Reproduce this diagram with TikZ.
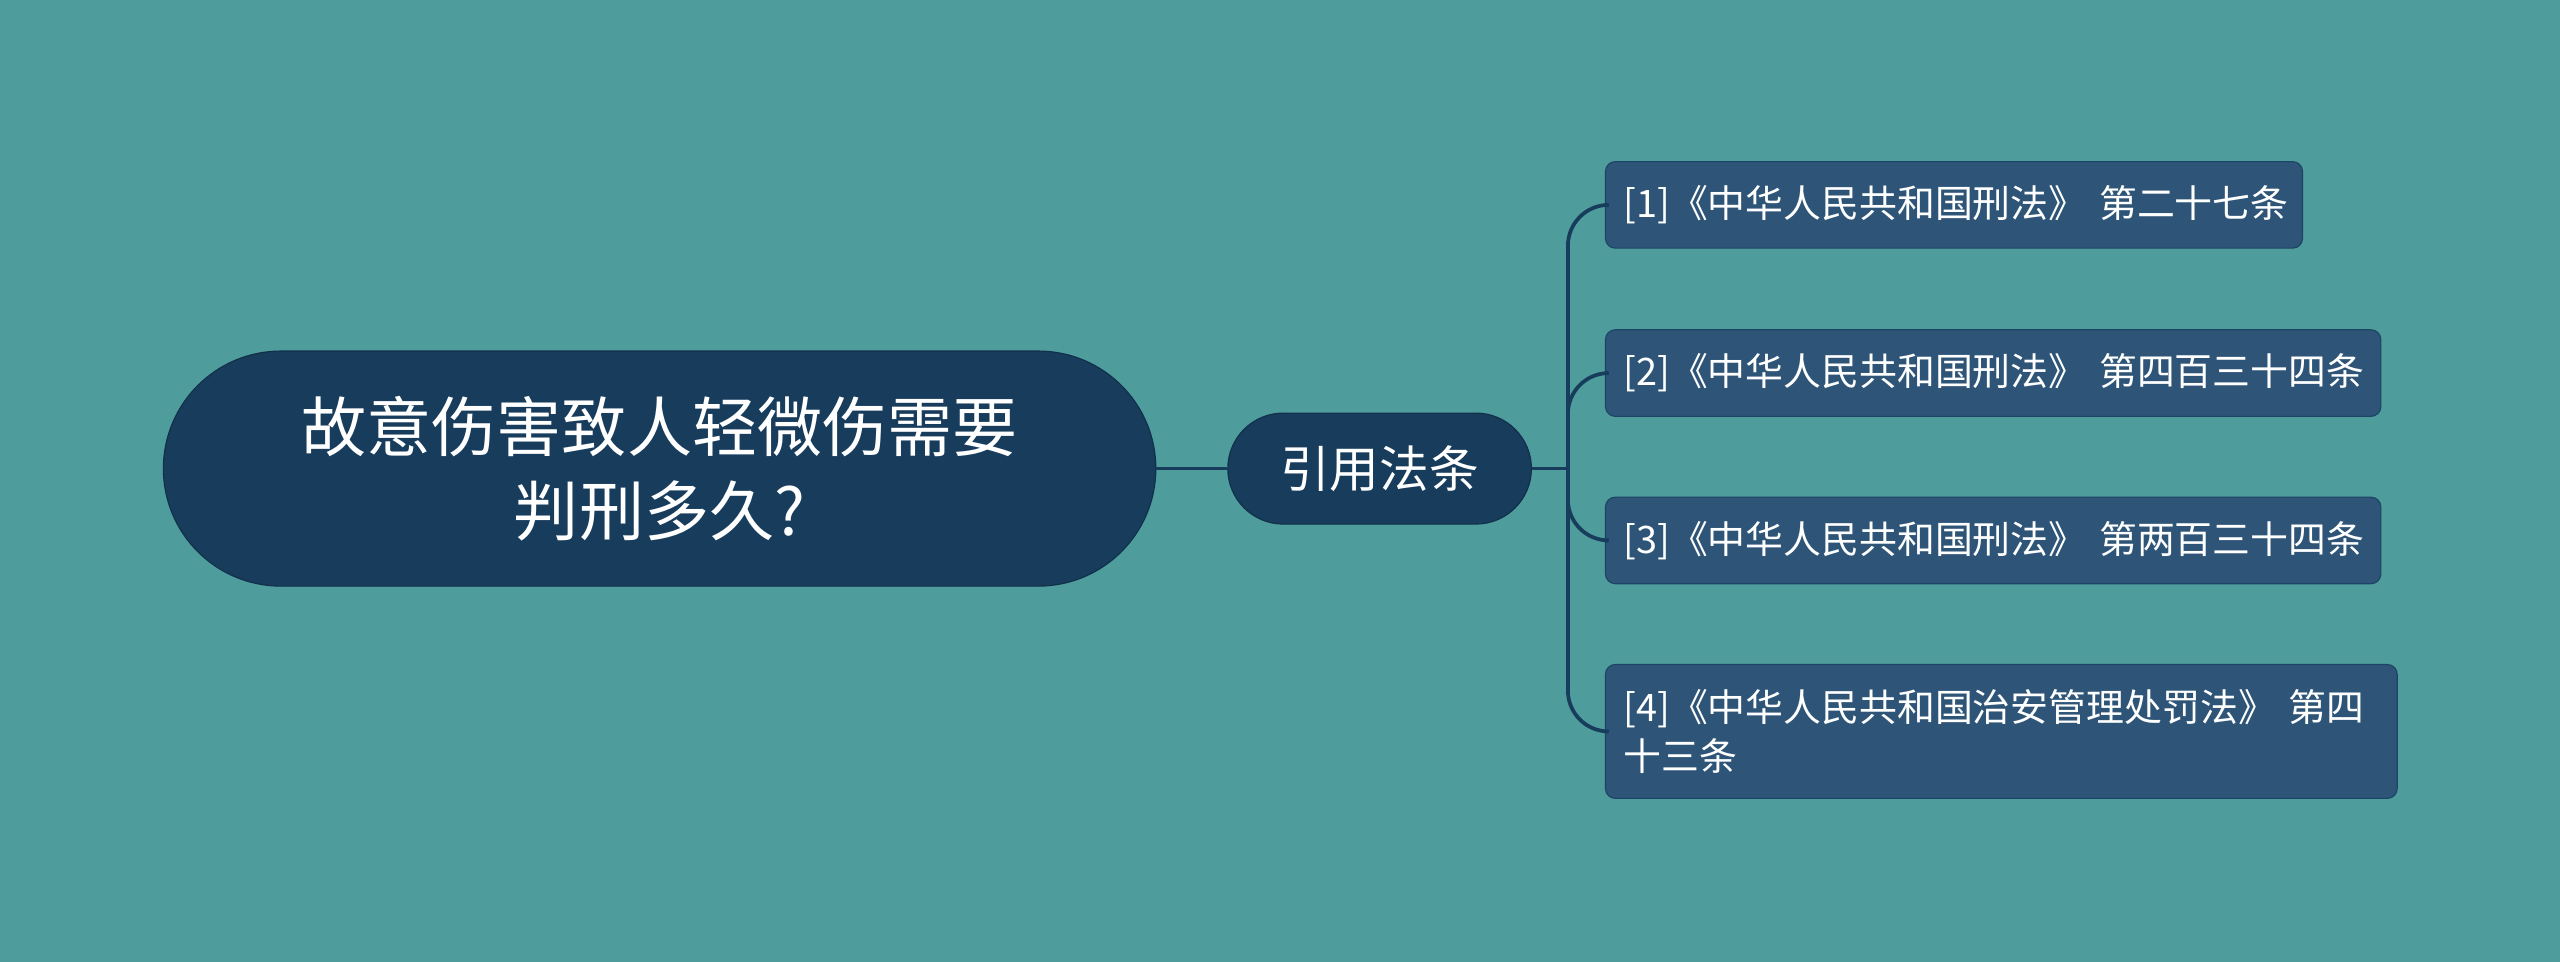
\documentclass[tikz,border=0pt]{standalone}
\usepackage{fontspec}
\setmainfont{Noto Sans CJK SC}
\definecolor{bgteal}{HTML}{4E9C9C}
\definecolor{rootblue}{HTML}{173C5C}
\definecolor{leafblue}{HTML}{2E5577}
\tikzset{
  rootbox/.style={draw=rootblue!80!black, fill=rootblue, text=white, rounded corners=1.44cm,
    minimum width=12.16cm, minimum height=2.88cm, align=center, font=\fontsize{22.7}{29}\selectfont},
  midbox/.style={draw=rootblue!80!black, fill=rootblue, text=white, rounded corners=0.68cm,
    minimum width=3.72cm, minimum height=1.36cm, font=\fontsize{17.3}{20}\selectfont},
  leafbox/.style={draw=rootblue!70!leafblue, fill=leafblue, text=white, rounded corners=0.12cm,
    anchor=west, align=left, inner xsep=0.22cm, inner ysep=0.2cm, minimum height=1.06cm,
    font=\fontsize{13.2}{17}\selectfont},
  link/.style={draw=rootblue, line width=1.3pt}
}
\begin{document}
\begin{tikzpicture}[x=0.02cm,y=-0.02cm]
  \fill[bgteal] (0,0) rectangle (1568,589);
  \node[rootbox] (root) at (404,287) {故意伤害致人轻微伤需要\\判刑多久?};
  \node[midbox] (law) at (845,287) {引用法条};
  \node[leafbox, text width=8.1cm] (l1) at (983,125.5) {\mbox{[1]《中华人民共和国刑法》 第二十七条}};
  \node[leafbox, text width=9.06cm] (l2) at (983,228.5) {\mbox{[2]《中华人民共和国刑法》 第四百三十四条}};
  \node[leafbox, text width=9.06cm] (l3) at (983,331) {\mbox{[3]《中华人民共和国刑法》 第两百三十四条}};
  \node[leafbox, text width=9.26cm, minimum height=1.64cm] (l4) at (983,448) {[4]《中华人民共和国治安管理处罚法》 第四\\十三条};
  \draw[link] (root.east) -- (law.west);
  \draw[link] (law.east) -- ++(22,0) coordinate (fork);
  \foreach \leaf in {l1,l2,l3,l4}
    \draw[link, rounded corners=0.5cm] (fork) |- (\leaf.west);
\end{tikzpicture}
\end{document}
